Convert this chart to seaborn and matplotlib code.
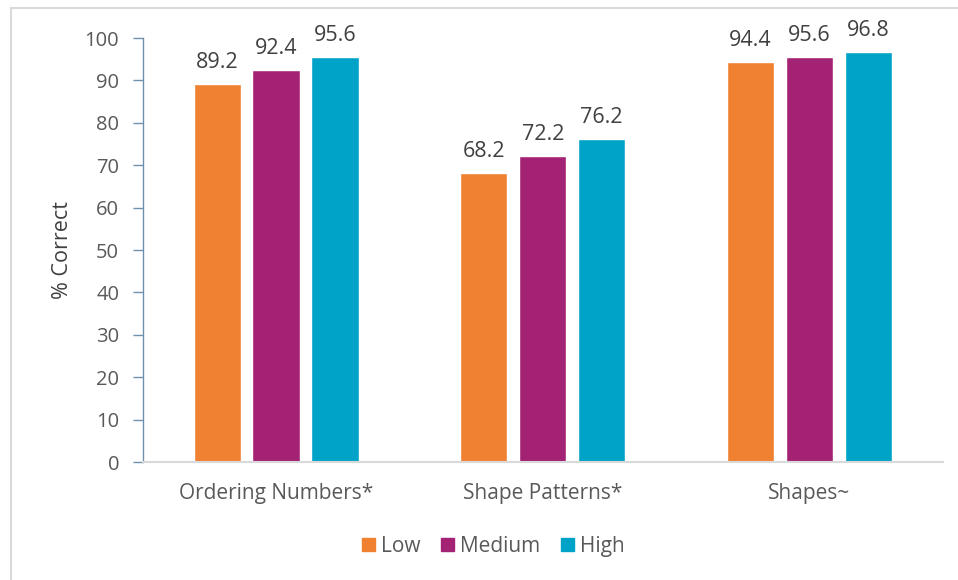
import matplotlib
matplotlib.use("Agg")
import matplotlib.pyplot as plt
import seaborn as sns
import pandas as pd
from matplotlib.lines import Line2D

categories = ["Ordering Numbers*", "Shape Patterns*", "Shapes~"]
levels = ["Low", "Medium", "High"]
low = [89.2, 68.2, 94.4]
medium = [92.4, 72.2, 95.6]
high = [95.6, 76.2, 96.8]
colors = ["#F08131", "#A32273", "#00A3C8"]

rows = []
for lvl, vals in zip(levels, [low, medium, high]):
    for c, v in zip(categories, vals):
        rows.append({"cat": c, "level": lvl, "val": v})
df = pd.DataFrame(rows)

sns.set_style("white")
plt.rcParams["font.family"] = ["Open Sans", "DejaVu Sans"]

fig = plt.figure(figsize=(9.58, 5.8), dpi=100)
ax = fig.add_axes([0.149, 0.2034, 0.835, 0.731])
sns.barplot(data=df, x="cat", y="val", hue="level", order=categories,
            hue_order=levels, palette=colors, width=0.663, gap=0.2,
            saturation=1, ax=ax, legend=True)

for cont in ax.containers:
    ax.bar_label(cont, fmt="%.1f", padding=8, fontsize=15.5, color="#404040")

ax.set_ylim(0, 100)
ax.set_xlim(-0.5, 2.5)
ax.set_yticks(range(0, 101, 10))
ax.set_xlabel("")
ax.set_ylabel("% Correct", fontsize=15.5, color="#404040", labelpad=8)
ax.tick_params(axis="y", labelsize=14.5, colors="#595959", length=7, width=1,
               direction="out", left=True, pad=10)
ax.tick_params(axis="y", color="#6F8FAF")
ax.tick_params(axis="x", labelsize=15, colors="#595959", length=0, pad=15)
for side in ["top", "right"]:
    ax.spines[side].set_visible(False)
ax.spines["left"].set_color("#6F8FAF")
ax.spines["left"].set_linewidth(1)
ax.spines["bottom"].set_color("#D9D9D9")
ax.spines["bottom"].set_linewidth(1.5)

ax.legend_.remove()
handles = [plt.Rectangle((0, 0), 1, 1, color=c) for c in colors]
fig.legend(handles, levels, loc="center", bbox_to_anchor=(0.515, 0.058),
           ncol=3, frameon=False, fontsize=15, handlelength=0.6,
           handleheight=0.6, handletextpad=0.3, columnspacing=1.0,
           labelcolor="#595959")

# partial figure border (top and left visible in reference)
fig.add_artist(Line2D([0.011, 1.0], [0.986, 0.986], transform=fig.transFigure,
                      color="#D9D9D9", lw=1.5))
fig.add_artist(Line2D([0.011, 0.011], [0.0, 0.986], transform=fig.transFigure,
                      color="#D9D9D9", lw=1.5))

fig.savefig("out.png", dpi=100)
